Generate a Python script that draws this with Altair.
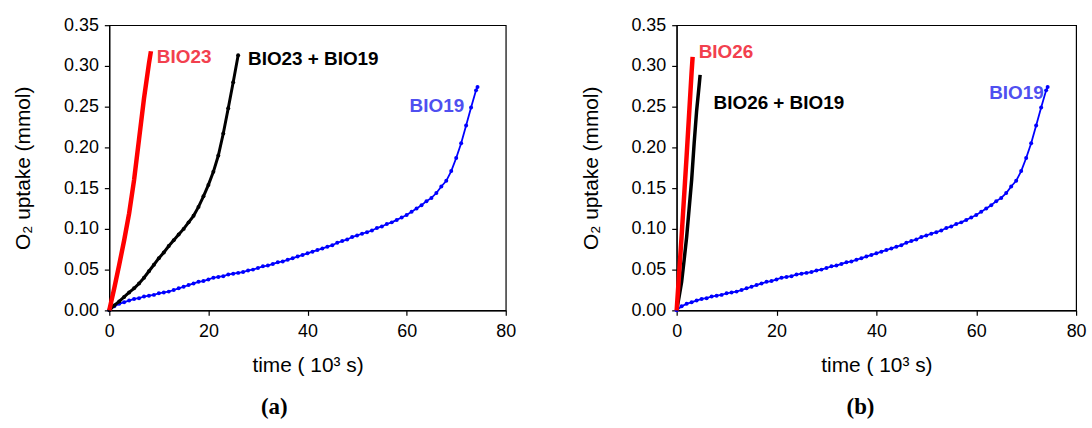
import altair as alt
import pandas as pd

# ---------------- data (time in 10^3 s, O2 uptake in mmol) ----------------
t_bio19 = [0, 1, 2, 3, 4, 5, 6, 7, 8, 9, 10, 11, 12, 13, 14, 15, 16, 17, 18, 19,
           20, 21, 22, 23, 24, 25, 26, 27, 28, 29, 30, 31, 32, 33, 34, 35, 36, 37, 38, 39,
           40, 41, 42, 43, 44, 45, 46, 47, 48, 49, 50, 51, 52, 53, 54, 55, 56, 57, 58, 59,
           60, 61, 62, 63, 64, 65, 66, 67, 68, 69, 70, 71, 72, 73, 74, 74.3]
v_bio19 = [0.000, 0.005, 0.008, 0.010, 0.012, 0.014, 0.015, 0.017, 0.018, 0.019,
           0.021, 0.022, 0.023, 0.025, 0.027, 0.029, 0.031, 0.033, 0.035, 0.036,
           0.038, 0.040, 0.041, 0.042, 0.044, 0.045, 0.046, 0.047, 0.049, 0.050,
           0.052, 0.054, 0.055, 0.057, 0.059, 0.060, 0.062, 0.064, 0.066, 0.068,
           0.070, 0.072, 0.074, 0.076, 0.078, 0.080, 0.083, 0.085, 0.087, 0.090,
           0.092, 0.094, 0.096, 0.098, 0.101, 0.103, 0.106, 0.108, 0.111, 0.114,
           0.117, 0.121, 0.125, 0.129, 0.134, 0.138, 0.144, 0.152, 0.159, 0.171,
           0.187, 0.205, 0.227, 0.249, 0.270, 0.274]

t_bio23 = [0, 1, 2, 3, 4, 5, 6, 7, 8, 8.4]
v_bio23 = [0.000, 0.027, 0.056, 0.086, 0.119, 0.160, 0.210, 0.260, 0.303, 0.318]

t_mix23 = [0, 1, 2, 3, 4, 5, 6, 7, 8, 9, 10, 11, 12, 13, 14, 15, 16, 17, 18, 19,
           20, 21, 22, 23, 24, 25, 26]
v_mix23 = [0.000, 0.006, 0.011, 0.0165, 0.022, 0.027, 0.033, 0.040, 0.048, 0.056,
           0.064, 0.071, 0.079, 0.086, 0.093, 0.100, 0.108, 0.116, 0.127, 0.140,
           0.154, 0.170, 0.190, 0.217, 0.248, 0.280, 0.313]

t_bio26 = [0, 1, 2, 3, 3.2]
v_bio26 = [0.000, 0.092, 0.190, 0.293, 0.311]

t_mix26 = [0, 0.5, 1, 1.5, 2, 2.5, 3, 3.5, 4, 4.5, 4.7]
v_mix26 = [0.000, 0.017, 0.035, 0.062, 0.090, 0.125, 0.160, 0.205, 0.245, 0.276, 0.289]

x_ticks = [0, 20, 40, 60, 80]
y_ticks = [0.00, 0.05, 0.10, 0.15, 0.20, 0.25, 0.30, 0.35]

labels_a_text = ["BIO23", "BIO23 + BIO19", "BIO19"]
labels_a_t = [9.6, 28.0, 60.6]
labels_a_v = [0.311, 0.309, 0.251]
labels_a_col = ["#f2404e", "#000000", "#4f4ff0"]

labels_b_text = ["BIO26", "BIO26 + BIO19", "BIO19"]
labels_b_t = [4.4, 7.4, 62.6]
labels_b_v = [0.317, 0.254, 0.267]
labels_b_col = ["#f2404e", "#000000", "#4f4ff0"]

FONT = "Liberation Sans"
H = 287


def series(ts, vs):
    return pd.DataFrame({"t": ts, "v": vs})


xenc = alt.X("t:Q",
             scale=alt.Scale(domain=[0, 80], nice=False),
             axis=alt.Axis(values=x_ticks, title="time ( 10³ s)", grid=False,
                           labelPadding=7, titlePadding=15, labelFlush=False))
yenc = alt.Y("v:Q",
             scale=alt.Scale(domain=[0, 0.35], nice=False),
             axis=alt.Axis(values=y_ticks, format=".2f", title="O₂ uptake (mmol)",
                           grid=False, labelPadding=6, titlePadding=30, labelFlush=False))


def line_layer(df, color, width, point_size):
    base = alt.Chart(df).encode(x=xenc, y=yenc)
    ln = base.mark_line(color=color, strokeWidth=width, clip=False)
    if point_size > 0:
        pts = base.mark_circle(color=color, size=point_size, opacity=1)
        return ln + pts
    return ln


def panel(red_df, mix_df, lab_text, lab_t, lab_v, lab_col, caption, cap_x,
          red_w, mix_w, mix_pts, width):
    blue = line_layer(series(t_bio19, v_bio19), "#0000ff", 1.8, 16)
    mix = line_layer(mix_df, "#000000", mix_w, mix_pts)
    red = line_layer(red_df, "#ff0000", red_w, 0)
    labdf = pd.DataFrame({"t": lab_t, "v": lab_v, "text": lab_text, "col": lab_col})
    labs = alt.Chart(labdf).mark_text(
        font=FONT, fontSize=19, fontWeight="bold", align="left", baseline="middle"
    ).encode(x=xenc, y=yenc, text="text:N", color=alt.Color("col:N", scale=None))
    capdf = pd.DataFrame({"text": [caption]})
    cap = alt.Chart(capdf).mark_text(
        font="Liberation Serif", fontSize=23, fontWeight="bold", align="center",
        baseline="middle"
    ).encode(x=alt.value(cap_x), y=alt.value(H + 97), text="text:N")
    return alt.layer(blue, mix, red, labs, cap).properties(width=width, height=H)


pa = panel(series(t_bio23, v_bio23), series(t_mix23, v_mix23),
           labels_a_text, labels_a_t, labels_a_v, labels_a_col, "(a)", 166,
           4.5, 3.0, 16, 399)
pb = panel(series(t_bio26, v_bio26), series(t_mix26, v_mix26),
           labels_b_text, labels_b_t, labels_b_v, labels_b_col, "(b)", 185,
           4.5, 3.5, 0, 402)

chart = alt.hconcat(pa, pb, spacing=63).properties(
    padding={"left": 12, "top": 14, "right": 5, "bottom": 0}
).configure_view(
    stroke="black", strokeWidth=1.2
).configure_axis(
    domainColor="black", tickColor="black", labelColor="black", titleColor="black",
    labelFont=FONT, titleFont=FONT, labelFontSize=18, titleFontSize=21,
    titleFontWeight="normal", tickSize=5, domainWidth=1.2, tickWidth=1.2
)

chart.save("out.html", embed_options={"renderer": "svg", "actions": False})
